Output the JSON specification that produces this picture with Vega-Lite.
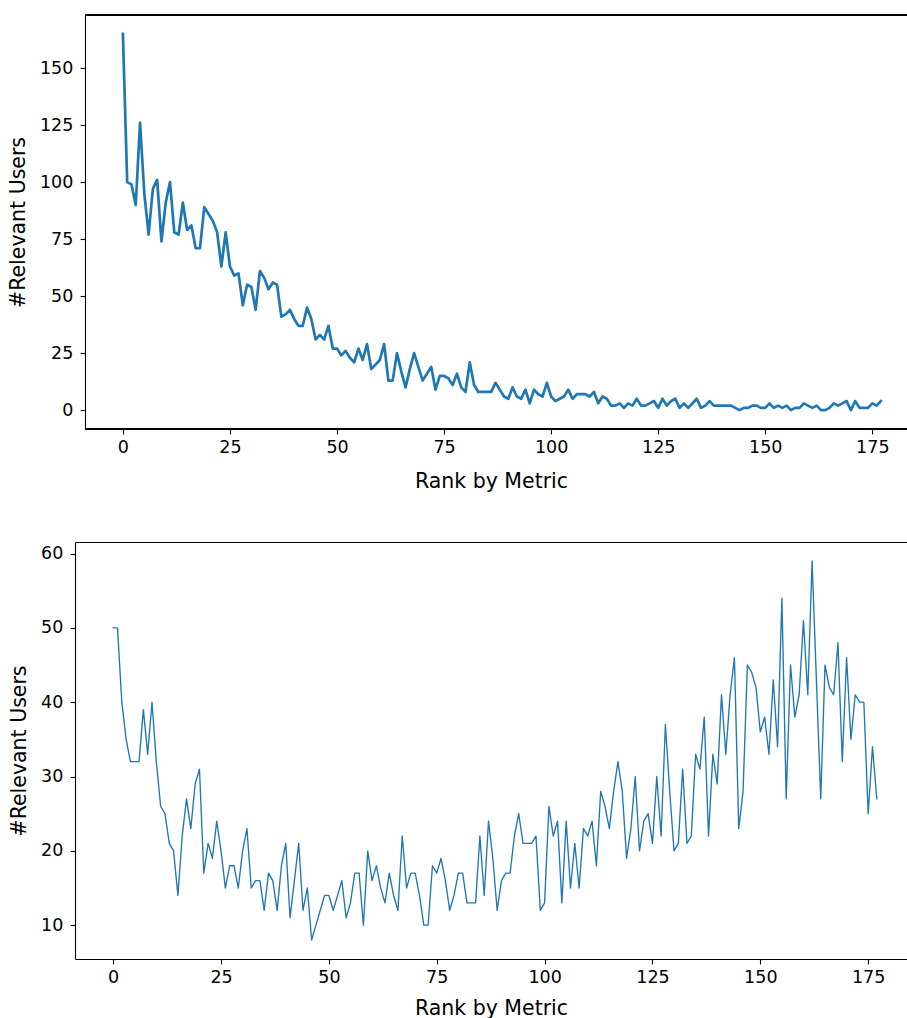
{
  "$schema": "https://vega.github.io/schema/vega-lite/v6.json",
  "padding": {"left": 8, "top": 14, "right": 0, "bottom": 0},
  "background": "white",
  "config": {
    "font": "DejaVu Sans",
    "view": {"stroke": null},
    "axis": {
      "grid": false,
      "domainColor": "black",
      "domainWidth": 1.1,
      "tickColor": "black",
      "tickWidth": 1.1,
      "tickSize": 4.9,
      "labelFont": "DejaVu Sans",
      "labelFontSize": 17.5,
      "labelColor": "black",
      "labelFlush": false,
      "labelOverlap": false,
      "titleFont": "DejaVu Sans",
      "titleFontSize": 20.5,
      "titleFontWeight": "normal",
      "titleColor": "black"
    },
    "axisX": {"labelPadding": 4.7, "titlePadding": 15.6},
    "axisY": {"labelPadding": 7.3, "titlePadding": 11}
  },
  "datasets": {
    "top": [
      {"rank":0,"users":165},{"rank":1,"users":100},{"rank":2,"users":99},{"rank":3,"users":90},{"rank":4,"users":126},{"rank":5,"users":95},{"rank":6,"users":77},{"rank":7,"users":97},{"rank":8,"users":101},{"rank":9,"users":74},
      {"rank":10,"users":91},{"rank":11,"users":100},{"rank":12,"users":78},{"rank":13,"users":77},{"rank":14,"users":91},{"rank":15,"users":79},{"rank":16,"users":81},{"rank":17,"users":71},{"rank":18,"users":71},{"rank":19,"users":89},
      {"rank":20,"users":86},{"rank":21,"users":83},{"rank":22,"users":78},{"rank":23,"users":63},{"rank":24,"users":78},{"rank":25,"users":63},{"rank":26,"users":59},{"rank":27,"users":60},{"rank":28,"users":46},{"rank":29,"users":55},
      {"rank":30,"users":54},{"rank":31,"users":44},{"rank":32,"users":61},{"rank":33,"users":58},{"rank":34,"users":53},{"rank":35,"users":56},{"rank":36,"users":55},{"rank":37,"users":41},{"rank":38,"users":42},{"rank":39,"users":44},
      {"rank":40,"users":40},{"rank":41,"users":37},{"rank":42,"users":37},{"rank":43,"users":45},{"rank":44,"users":40},{"rank":45,"users":31},{"rank":46,"users":33},{"rank":47,"users":31},{"rank":48,"users":37},{"rank":49,"users":27},
      {"rank":50,"users":27},{"rank":51,"users":24},{"rank":52,"users":26},{"rank":53,"users":23},{"rank":54,"users":21},{"rank":55,"users":27},{"rank":56,"users":22},{"rank":57,"users":29},{"rank":58,"users":18},{"rank":59,"users":20},
      {"rank":60,"users":22},{"rank":61,"users":29},{"rank":62,"users":13},{"rank":63,"users":13},{"rank":64,"users":25},{"rank":65,"users":17},{"rank":66,"users":10},{"rank":67,"users":18},{"rank":68,"users":25},{"rank":69,"users":19},
      {"rank":70,"users":13},{"rank":71,"users":16},{"rank":72,"users":19},{"rank":73,"users":9},{"rank":74,"users":15},{"rank":75,"users":15},{"rank":76,"users":14},{"rank":77,"users":11},{"rank":78,"users":16},{"rank":79,"users":10},
      {"rank":80,"users":8},{"rank":81,"users":21},{"rank":82,"users":11},{"rank":83,"users":8},{"rank":84,"users":8},{"rank":85,"users":8},{"rank":86,"users":8},{"rank":87,"users":12},{"rank":88,"users":9},{"rank":89,"users":6},
      {"rank":90,"users":5},{"rank":91,"users":10},{"rank":92,"users":6},{"rank":93,"users":5},{"rank":94,"users":9},{"rank":95,"users":3},{"rank":96,"users":9},{"rank":97,"users":7},{"rank":98,"users":6},{"rank":99,"users":12},
      {"rank":100,"users":6},{"rank":101,"users":4},{"rank":102,"users":5},{"rank":103,"users":6},{"rank":104,"users":9},{"rank":105,"users":5},{"rank":106,"users":7},{"rank":107,"users":7},{"rank":108,"users":7},{"rank":109,"users":6},
      {"rank":110,"users":8},{"rank":111,"users":3},{"rank":112,"users":6},{"rank":113,"users":5},{"rank":114,"users":2},{"rank":115,"users":2},{"rank":116,"users":3},{"rank":117,"users":1},{"rank":118,"users":3},{"rank":119,"users":2},
      {"rank":120,"users":5},{"rank":121,"users":2},{"rank":122,"users":2},{"rank":123,"users":3},{"rank":124,"users":4},{"rank":125,"users":1},{"rank":126,"users":5},{"rank":127,"users":2},{"rank":128,"users":4},{"rank":129,"users":5},
      {"rank":130,"users":1},{"rank":131,"users":3},{"rank":132,"users":1},{"rank":133,"users":3},{"rank":134,"users":5},{"rank":135,"users":1},{"rank":136,"users":2},{"rank":137,"users":4},{"rank":138,"users":2},{"rank":139,"users":2},
      {"rank":140,"users":2},{"rank":141,"users":2},{"rank":142,"users":2},{"rank":143,"users":1},{"rank":144,"users":0},{"rank":145,"users":1},{"rank":146,"users":1},{"rank":147,"users":2},{"rank":148,"users":2},{"rank":149,"users":1},
      {"rank":150,"users":1},{"rank":151,"users":3},{"rank":152,"users":1},{"rank":153,"users":2},{"rank":154,"users":1},{"rank":155,"users":2},{"rank":156,"users":0},{"rank":157,"users":1},{"rank":158,"users":1},{"rank":159,"users":3},
      {"rank":160,"users":2},{"rank":161,"users":1},{"rank":162,"users":2},{"rank":163,"users":0},{"rank":164,"users":0},{"rank":165,"users":1},{"rank":166,"users":3},{"rank":167,"users":2},{"rank":168,"users":3},{"rank":169,"users":4},
      {"rank":170,"users":0},{"rank":171,"users":4},{"rank":172,"users":1},{"rank":173,"users":1},{"rank":174,"users":1},{"rank":175,"users":3},{"rank":176,"users":2},{"rank":177,"users":4}
    ],
    "bottom": [
      {"rank":0,"users":50},{"rank":1,"users":50},{"rank":2,"users":40},{"rank":3,"users":35},{"rank":4,"users":32},{"rank":5,"users":32},{"rank":6,"users":32},{"rank":7,"users":39},{"rank":8,"users":33},{"rank":9,"users":40},
      {"rank":10,"users":32},{"rank":11,"users":26},{"rank":12,"users":25},{"rank":13,"users":21},{"rank":14,"users":20},{"rank":15,"users":14},{"rank":16,"users":22},{"rank":17,"users":27},{"rank":18,"users":23},{"rank":19,"users":29},
      {"rank":20,"users":31},{"rank":21,"users":17},{"rank":22,"users":21},{"rank":23,"users":19},{"rank":24,"users":24},{"rank":25,"users":20},{"rank":26,"users":15},{"rank":27,"users":18},{"rank":28,"users":18},{"rank":29,"users":15},
      {"rank":30,"users":20},{"rank":31,"users":23},{"rank":32,"users":15},{"rank":33,"users":16},{"rank":34,"users":16},{"rank":35,"users":12},{"rank":36,"users":17},{"rank":37,"users":16},{"rank":38,"users":12},{"rank":39,"users":18},
      {"rank":40,"users":21},{"rank":41,"users":11},{"rank":42,"users":16},{"rank":43,"users":21},{"rank":44,"users":12},{"rank":45,"users":15},{"rank":46,"users":8},{"rank":47,"users":10},{"rank":48,"users":12},{"rank":49,"users":14},
      {"rank":50,"users":14},{"rank":51,"users":12},{"rank":52,"users":14},{"rank":53,"users":16},{"rank":54,"users":11},{"rank":55,"users":13},{"rank":56,"users":17},{"rank":57,"users":17},{"rank":58,"users":10},{"rank":59,"users":20},
      {"rank":60,"users":16},{"rank":61,"users":18},{"rank":62,"users":15},{"rank":63,"users":13},{"rank":64,"users":17},{"rank":65,"users":14},{"rank":66,"users":12},{"rank":67,"users":22},{"rank":68,"users":15},{"rank":69,"users":17},
      {"rank":70,"users":17},{"rank":71,"users":14},{"rank":72,"users":10},{"rank":73,"users":10},{"rank":74,"users":18},{"rank":75,"users":17},{"rank":76,"users":19},{"rank":77,"users":16},{"rank":78,"users":12},{"rank":79,"users":14},
      {"rank":80,"users":17},{"rank":81,"users":17},{"rank":82,"users":13},{"rank":83,"users":13},{"rank":84,"users":13},{"rank":85,"users":22},{"rank":86,"users":14},{"rank":87,"users":24},{"rank":88,"users":19},{"rank":89,"users":12},
      {"rank":90,"users":16},{"rank":91,"users":17},{"rank":92,"users":17},{"rank":93,"users":22},{"rank":94,"users":25},{"rank":95,"users":21},{"rank":96,"users":21},{"rank":97,"users":21},{"rank":98,"users":22},{"rank":99,"users":12},
      {"rank":100,"users":13},{"rank":101,"users":26},{"rank":102,"users":22},{"rank":103,"users":24},{"rank":104,"users":13},{"rank":105,"users":24},{"rank":106,"users":15},{"rank":107,"users":21},{"rank":108,"users":15},{"rank":109,"users":23},
      {"rank":110,"users":22},{"rank":111,"users":24},{"rank":112,"users":18},{"rank":113,"users":28},{"rank":114,"users":26},{"rank":115,"users":23},{"rank":116,"users":28},{"rank":117,"users":32},{"rank":118,"users":28},{"rank":119,"users":19},
      {"rank":120,"users":23},{"rank":121,"users":30},{"rank":122,"users":20},{"rank":123,"users":24},{"rank":124,"users":25},{"rank":125,"users":21},{"rank":126,"users":30},{"rank":127,"users":22},{"rank":128,"users":37},{"rank":129,"users":28},
      {"rank":130,"users":20},{"rank":131,"users":21},{"rank":132,"users":31},{"rank":133,"users":21},{"rank":134,"users":22},{"rank":135,"users":33},{"rank":136,"users":31},{"rank":137,"users":38},{"rank":138,"users":22},{"rank":139,"users":33},
      {"rank":140,"users":29},{"rank":141,"users":41},{"rank":142,"users":33},{"rank":143,"users":41},{"rank":144,"users":46},{"rank":145,"users":23},{"rank":146,"users":28},{"rank":147,"users":45},{"rank":148,"users":44},{"rank":149,"users":42},
      {"rank":150,"users":36},{"rank":151,"users":38},{"rank":152,"users":33},{"rank":153,"users":43},{"rank":154,"users":34},{"rank":155,"users":54},{"rank":156,"users":27},{"rank":157,"users":45},{"rank":158,"users":38},{"rank":159,"users":41},
      {"rank":160,"users":51},{"rank":161,"users":41},{"rank":162,"users":59},{"rank":163,"users":43},{"rank":164,"users":27},{"rank":165,"users":45},{"rank":166,"users":42},{"rank":167,"users":41},{"rank":168,"users":48},{"rank":169,"users":32},
      {"rank":170,"users":46},{"rank":171,"users":35},{"rank":172,"users":41},{"rank":173,"users":40},{"rank":174,"users":40},{"rank":175,"users":25},{"rank":176,"users":34},{"rank":177,"users":27}
    ]
  },
  "concat": [
    {
      "width": 832,
      "height": 414,
      "data": {"name": "top"},
      "encoding": {
        "x": {"field": "rank", "type": "quantitative", "scale": {"domain": [-11.185, 183.1], "nice": false, "zero": false},
              "axis": {"values": [0, 25, 50, 75, 100, 125, 150, 175], "title": "Rank by Metric", "domain": false}},
        "y": {"field": "users", "type": "quantitative", "scale": {"domain": [-8.25, 173.25], "nice": false, "zero": false},
              "axis": {"values": [0, 25, 50, 75, 100, 125, 150], "title": "#Relevant Users", "offset": -10}}
      },
      "layer": [
        {
          "mark": {"type": "line", "color": "#1f77b4", "strokeWidth": 2.7, "strokeJoin": "round", "strokeCap": "square"}
        },
        {
          "mark": {"type": "rule", "color": "black", "strokeWidth": 1.1},
          "encoding": {
            "x": {"datum": -8.85, "type": "quantitative"},
            "x2": {"datum": 183.1},
            "y": {"datum": -8.25, "type": "quantitative"}
          }
        },
        {
          "mark": {"type": "rule", "color": "black", "strokeWidth": 1.1},
          "encoding": {
            "x": {"datum": -8.85, "type": "quantitative"},
            "x2": {"datum": 183.1},
            "y": {"datum": 173.25, "type": "quantitative"}
          }
        }
      ]
    },
    {
      "width": 832,
      "height": 417,
      "data": {"name": "bottom"},
      "encoding": {
        "y": {"field": "users", "type": "quantitative", "scale": {"domain": [5.45, 61.55], "nice": false, "zero": false},
              "axis": {"values": [10, 20, 30, 40, 50, 60], "title": "#Relevant Users"}}
      },
      "layer": [
        {
          "mark": {"type": "line", "color": "#1f77b4", "strokeWidth": 1.35, "strokeJoin": "round", "strokeCap": "square"},
          "encoding": {
            "x": {"field": "rank", "type": "quantitative", "scale": {"domain": [-8.85, 184.0], "nice": false, "zero": false},
                  "axis": {"values": [0, 25, 50, 75, 100, 125, 150, 175], "title": "Rank by Metric", "titlePadding": 12}}
          }
        },
        {
          "mark": {"type": "line", "strokeOpacity": 0},
          "encoding": {
            "x": {"field": "rank", "type": "quantitative", "scale": {"domain": [-8.85, 184.0], "nice": false, "zero": false},
                  "axis": {"orient": "top", "labels": false, "ticks": false, "title": null, "domain": true}}
          }
        }
      ],
      "resolve": {"axis": {"x": "independent"}}
    }
  ],
  "columns": 1,
  "spacing": 49
}
